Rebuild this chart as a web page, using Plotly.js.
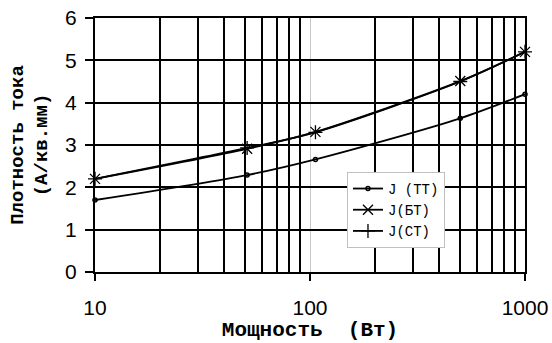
<!DOCTYPE html>
<html>
<head>
<meta charset="utf-8">
<script src="https://cdn.plot.ly/plotly-3.0.1.min.js"></script>
<style>html,body{margin:0;padding:0;background:#fff;}#chart{width:552px;height:343px;}</style>
</head>
<body>
<div id="chart"></div>
<script>
// Data
const power = [10, 51, 106, 500, 1000];          // Мощность (Вт)
const jTT = [1.70, 2.29, 2.66, 3.63, 4.20];      // J (TT)
const jBT = [2.20, 2.91, 3.31, 4.51, 5.20];      // J(БТ)
const jCT = [2.20, 2.93, 3.30, 4.50, 5.20];      // J(СТ)
const seriesNames = ['J (TT)', 'J(БТ)', 'J(СТ)'];
const xTitle = 'Мощность\u00a0\u00a0(Вт)';
const yTitle = 'Плотность тока<br>(А/кв.мм)';

const SANS = '"Liberation Sans", Arial, sans-serif';
const MONO = '"Liberation Mono", "Courier New", monospace';

const lineStyle = {color: '#000', width: 1.8, shape: 'spline', smoothing: 0.8};
const traces = [
  {x: power, y: jTT, name: seriesNames[0], mode: 'lines+markers', line: lineStyle,
   marker: {symbol: 'circle-open', size: 4, color: '#000', line: {width: 1.5, color: '#000'}}, cliponaxis: false},
  {x: power, y: jBT, name: seriesNames[1], mode: 'lines+markers', line: lineStyle,
   marker: {symbol: 'x-thin-open', size: 10, color: '#000', line: {width: 1.3, color: '#000'}}, cliponaxis: false},
  {x: power, y: jCT, name: seriesNames[2], mode: 'lines+markers', line: lineStyle,
   marker: {symbol: 'cross-thin-open', size: 10, color: '#000', line: {width: 1.3, color: '#000'}}, cliponaxis: false}
];

const layout = {
  width: 552, height: 343,
  margin: {l: 95, r: 27, t: 18, b: 71},
  paper_bgcolor: '#fff', plot_bgcolor: '#fff',
  showlegend: true,
  xaxis: {
    type: 'log', range: [1, 3], dtick: 1, tick0: 0, exponentformat: 'none',
    showline: true, mirror: true, linecolor: '#000', linewidth: 2,
    showgrid: true, gridcolor: '#c8c8c8', gridwidth: 1,
    ticks: 'outside', ticklen: 7, tickwidth: 2, tickcolor: '#000',
    ticklabelstandoff: 9,
    tickfont: {family: SANS, size: 21, color: '#000'},
    minor: {dtick: 'D1', showgrid: true, gridcolor: '#000', gridwidth: 2, ticks: ''},
    zeroline: false,
    title: {text: xTitle, standoff: 1,
            font: {family: MONO, size: 21, color: '#000', weight: 'bold'}}
  },
  yaxis: {
    range: [0, 6], dtick: 1,
    showline: true, mirror: true, linecolor: '#000', linewidth: 2,
    showgrid: true, gridcolor: '#000', gridwidth: 2,
    ticks: 'outside', ticklen: 8, tickwidth: 2, tickcolor: '#000',
    ticklabelstandoff: 4,
    tickfont: {family: SANS, size: 21, color: '#000'},
    zeroline: false,
    title: {text: yTitle, standoff: 12,
            font: {family: MONO, size: 19, color: '#000', weight: 'bold'}}
  },
  legend: {
    x: 0.586, y: 0.394, xanchor: 'left', yanchor: 'top',
    bgcolor: '#fff', bordercolor: '#c0c0c0', borderwidth: 1,
    font: {family: MONO, size: 14, color: '#000'},
    itemwidth: 30, tracegroupgap: 0
  }
};

Plotly.newPlot('chart', traces, layout, {displayModeBar: false, staticPlot: true});
</script>
</body>
</html>
